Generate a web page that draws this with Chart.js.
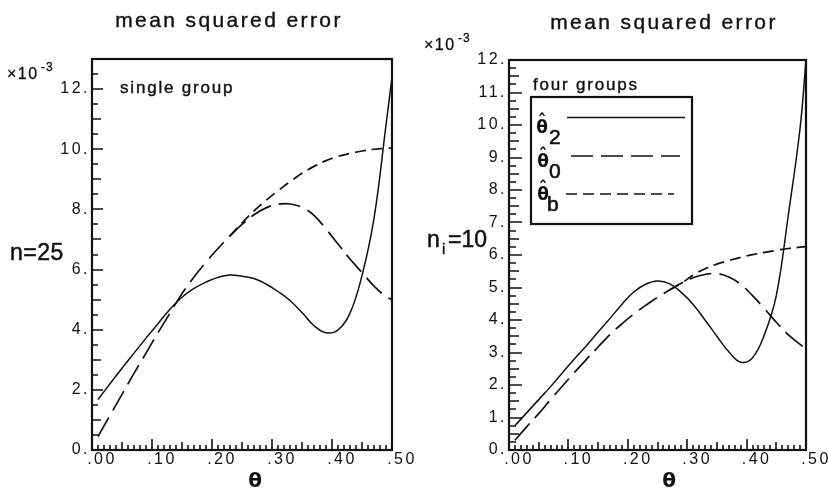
<!DOCTYPE html>
<html>
<head>
<meta charset="utf-8">
<script src="https://cdn.jsdelivr.net/npm/chart.js@4.4.1/dist/chart.umd.min.js"></script>
<style>
  body { margin: 0; background: #fff; }
  #figure { position: relative; width: 828px; height: 489px; background: #fff; overflow: hidden; }
  #figure canvas { position: absolute; top: 0; }
</style>
</head>
<body>
<div id="figure">
  <canvas id="singleChart" width="414" height="489" style="left:0"></canvas>
  <canvas id="fourChart" width="414" height="489" style="left:414px"></canvas>
</div>
<script>
// theta values the curves were read at
const theta = [0.01, 0.03, 0.05, 0.07, 0.09, 0.11, 0.13, 0.15, 0.17, 0.19, 0.21, 0.23, 0.25,
               0.27, 0.29, 0.31, 0.33, 0.35, 0.37, 0.39, 0.41, 0.43, 0.45, 0.47, 0.49, 0.50];

// single group, n = 25  (mean squared error, units of 1e-3)
const singleTheta2 = [1.68, 2.2, 2.72, 3.22, 3.72, 4.2, 4.68, 5.08, 5.37, 5.58, 5.74, 5.82, 5.78,
                      5.7, 5.52, 5.27, 4.97, 4.57, 4.13, 3.9, 3.99, 4.55, 5.8, 7.7, 10.8, 12.4];
const singleTheta0 = [0.45, 1.15, 1.85, 2.55, 3.22, 3.9, 4.55, 5.2, 5.75, 6.25, 6.7, 7.12, 7.5,
                      7.82, 8.05, 8.17, 8.18, 8.07, 7.8, 7.35, 6.85, 6.35, 5.9, 5.45, 5.1, 5.0];
// runs on top of theta0 until about .23
const singleThetaB = [null, null, null, null, null, null, null, null, null, null, null, 7.12, 7.55,
                      7.95, 8.3, 8.62, 8.92, 9.2, 9.43, 9.62, 9.76, 9.86, 9.94, 10.0, 10.03, 10.04];

// four groups, n_i = 10
const fourTheta2 = [0.75, 1.15, 1.55, 1.95, 2.38, 2.8, 3.2, 3.63, 4.05, 4.48, 4.86, 5.1, 5.2,
                    5.12, 4.85, 4.48, 4.0, 3.5, 3.02, 2.7, 2.84, 3.55, 4.75, 7.2, 9.9, 12.0];
const fourTheta0 = [0.3, 0.72, 1.12, 1.55, 1.97, 2.38, 2.78, 3.17, 3.55, 3.88, 4.18, 4.45, 4.7,
                    4.92, 5.13, 5.3, 5.4, 5.43, 5.32, 5.1, 4.75, 4.35, 3.93, 3.55, 3.25, 3.12];
const fourThetaB = [null, null, null, null, null, null, null, null, null, null, null, null, null,
                    4.92, 5.13, 5.38, 5.58, 5.72, 5.83, 5.93, 6.01, 6.08, 6.14, 6.2, 6.24, 6.26];

const seriesNames = ['θ̂2', 'θ̂0', 'θ̂b'];
const legendSubs = ['2', '0', 'b'];

const xTickValues = [0, 0.1, 0.2, 0.3, 0.4, 0.5];
const xTickLabels = ['.00', '.10', '.20', '.30', '.40', '.50'];
const singleYTicks = [0, 2, 4, 6, 8, 10, 12];
const fourYTicks = [0, 1, 2, 3, 4, 5, 6, 7, 8, 9, 10, 11, 12];

const ink = '#111111';
const lineStyles = [
  { borderDash: [], borderWidth: 1.5 },
  { borderDash: [22, 8], borderWidth: 1.7 },
  { borderDash: [11, 6], borderWidth: 1.7 },
];

// box round the plot area and the small tick marks pointing into it
const frameTicks = {
  id: 'frameTicks',
  afterDatasetsDraw(chart, args, opts) {
    const { ctx, chartArea: a, scales: { x, y } } = chart;
    ctx.save();
    ctx.strokeStyle = ink;
    ctx.lineWidth = 2.2;
    ctx.strokeRect(a.left, a.top, a.right - a.left, a.bottom - a.top);

    ctx.lineWidth = 1.6;
    ctx.beginPath();
    // count in whole steps so float error does not creep in
    const nx = Math.round((x.max - x.min) / opts.xStep);
    for (let i = 1; i < nx; i++) {
      const px = Math.round(x.getPixelForValue(x.min + i * opts.xStep));
      const len = i % opts.xMajor === 0 ? opts.xLen[2] : (i % opts.xMid === 0 ? opts.xLen[1] : opts.xLen[0]);
      ctx.moveTo(px, a.bottom);
      ctx.lineTo(px, a.bottom - len);
    }
    const ny = Math.round((y.max - y.min) / opts.yStep);
    for (let i = 1; i < ny; i++) {
      const py = Math.round(y.getPixelForValue(y.min + i * opts.yStep));
      const len = i % opts.yMajor === 0 ? opts.yLen[2] : (i % opts.yMid === 0 ? opts.yLen[1] : opts.yLen[0]);
      ctx.moveTo(a.left, py);
      ctx.lineTo(a.left + len, py);
    }
    ctx.stroke();
    ctx.restore();
  }
};

// titles, notes and the hand made legend
const panelText = {
  id: 'panelText',
  beforeDraw(chart, args, opts) {
    // the old plotter lettering is spaced out, ticks included
    chart.ctx.letterSpacing = opts.tickSpacing;
  },
  afterDraw(chart, args, opts) {
    const ctx = chart.ctx;
    ctx.save();
    ctx.fillStyle = ink;
    ctx.strokeStyle = ink;
    ctx.textBaseline = 'alphabetic';
    for (const item of opts.items) {
      ctx.font = item.font;
      ctx.letterSpacing = (item.spacing || 0) + 'px';
      ctx.textAlign = item.align || 'left';
      ctx.fillText(item.text, item.x, item.y);
      if (item.stroke) {
        // scanned lettering is a little heavier than the font
        ctx.lineWidth = item.stroke;
        ctx.strokeText(item.text, item.x, item.y);
      }
    }

    const lg = opts.legend;
    if (lg) {
      ctx.lineWidth = 2.2;
      ctx.strokeRect(lg.box[0], lg.box[1], lg.box[2], lg.box[3]);
      ctx.letterSpacing = '0px';
      chart.data.datasets.forEach((ds, i) => {
        const row = lg.rows[i];
        ctx.save();
        ctx.setLineDash(ds.borderDash);
        ctx.lineWidth = ds.borderWidth;
        ctx.beginPath();
        ctx.moveTo(row.x0, row.lineY);
        ctx.lineTo(row.x1, row.lineY);
        ctx.stroke();
        ctx.restore();

        ctx.textAlign = 'center';
        ctx.font = lg.symbolFont;
        ctx.fillText('θ', row.tx, row.ty);
        ctx.fillText('ˆ', row.tx, row.ty - lg.hatRise);
        ctx.textAlign = 'left';
        ctx.font = lg.subFont;
        ctx.fillText(legendSubs[i], row.sx, row.ty + lg.subDrop);
        ctx.lineWidth = 0.6;
        ctx.strokeText(legendSubs[i], row.sx, row.ty + lg.subDrop);
      });
    }
    ctx.restore();
    ctx.letterSpacing = '0px';
  }
};

function buildPanel(canvasId, cfg) {
  const datasets = cfg.series.map((values, i) => ({
    label: seriesNames[i],
    data: theta.map((t, j) => ({ x: t, y: values[j] })),
    borderColor: ink,
    borderWidth: lineStyles[i].borderWidth,
    borderDash: lineStyles[i].borderDash,
    pointRadius: 0,
    fill: false,
    tension: 0.4,
  }));

  return new Chart(document.getElementById(canvasId), {
    type: 'line',
    data: { datasets: datasets },
    options: {
      responsive: false,
      animation: false,
      layout: { padding: { top: cfg.top, right: 22, left: 0, bottom: 0 } },
      plugins: {
        legend: { display: false },
        title: { display: false },
        tooltip: { enabled: false },
        frameTicks: cfg.ticks,
        panelText: { tickSpacing: '2.5px', items: cfg.texts, legend: cfg.legend },
      },
      scales: {
        x: {
          type: 'linear',
          min: 0,
          max: 0.5,
          afterBuildTicks: (scale) => { scale.ticks = xTickValues.map(v => ({ value: v })); },
          afterFit: (scale) => {
            scale.height = 39;
            scale.paddingLeft = 0;
            scale.paddingRight = 0;
          },
          grid: { display: false, drawTicks: false },
          border: { display: false },
          ticks: {
            autoSkip: false,
            maxRotation: 0,
            padding: 0,
            labelOffset: 10,
            color: ink,
            font: { family: 'Liberation Sans', size: 16 },
            callback: (value, index) => xTickLabels[index],
          },
        },
        y: {
          type: 'linear',
          min: 0,
          max: cfg.yMax,
          afterBuildTicks: (scale) => { scale.ticks = cfg.yTicks.map(v => ({ value: v })); },
          afterFit: (scale) => { scale.width = cfg.axisWidth; },
          grid: { display: false, drawTicks: false },
          border: { display: false },
          ticks: {
            padding: 2,
            color: ink,
            font: { family: 'Liberation Sans', size: 16 },
            callback: (value) => value + '.',
          },
        },
      },
    },
    plugins: [frameTicks, panelText],
  });
}

const mainFont = '"Liberation Sans"';

buildPanel('singleChart', {
  series: [singleTheta2, singleTheta0, singleThetaB],
  yMax: 13,
  yTicks: singleYTicks,
  top: 59,
  axisWidth: 92,
  ticks: { xStep: 0.01, xMid: 5, xMajor: 10, xLen: [5, 8, 11], yStep: 0.5, yMid: 2, yMajor: 4, yLen: [6, 9, 11] },
  texts: [
    { text: 'mean squared error', x: 229, y: 27, font: '21px ' + mainFont, align: 'center', spacing: 2.4, stroke: 0.4 },
    { text: '×10', x: 7, y: 79, font: '16px ' + mainFont, spacing: 1.5, stroke: 0.3 },
    { text: '-3', x: 41, y: 71, font: '12px ' + mainFont, spacing: 1, stroke: 0.3 },
    { text: 'single group', x: 120, y: 93, font: '17px ' + mainFont, spacing: 1.8, stroke: 0.4 },
    { text: 'n=25', x: 10, y: 260, font: '23px ' + mainFont, spacing: 0.5, stroke: 0.5 },
    { text: 'θ', x: 255, y: 487, font: 'bold 20px "DejaVu Sans"', align: 'center' },
  ],
  legend: null,
});

buildPanel('fourChart', {
  series: [fourTheta2, fourTheta0, fourThetaB],
  yMax: 12,
  yTicks: fourYTicks,
  top: 60,
  axisWidth: 95,
  ticks: { xStep: 0.01, xMid: 5, xMajor: 10, xLen: [5, 8, 11], yStep: 0.25, yMid: 2, yMajor: 4, yLen: [7, 10, 13] },
  texts: [
    { text: 'mean squared error', x: 250, y: 29, font: '21px ' + mainFont, align: 'center', spacing: 2.4, stroke: 0.4 },
    { text: '×10', x: 10, y: 50, font: '16px ' + mainFont, spacing: 1.5, stroke: 0.3 },
    { text: '-3', x: 44, y: 42, font: '12px ' + mainFont, spacing: 1, stroke: 0.3 },
    { text: 'four groups', x: 119, y: 90, font: '17px ' + mainFont, spacing: 1.8, stroke: 0.4 },
    { text: 'n', x: 13, y: 247, font: '23px ' + mainFont, stroke: 0.5 },
    { text: 'i', x: 28, y: 254, font: '15px ' + mainFont, stroke: 0.4 },
    { text: '=10', x: 34, y: 247, font: '23px ' + mainFont, stroke: 0.5 },
    { text: 'θ', x: 255, y: 487, font: 'bold 20px "DejaVu Sans"', align: 'center' },
  ],
  legend: {
    box: [117, 97, 161, 127],
    symbolFont: 'bold 17px "DejaVu Sans"',
    subFont: '21px ' + mainFont,
    hatRise: 6,
    subDrop: 11,
    rows: [
      { lineY: 117.5, x0: 153, x1: 271, tx: 128, ty: 133, sx: 135 },
      { lineY: 156, x0: 157, x1: 266, tx: 129, ty: 167, sx: 135 },
      { lineY: 194, x0: 152, x1: 260, tx: 129, ty: 200, sx: 133 },
    ],
  },
});
</script>
</body>
</html>
